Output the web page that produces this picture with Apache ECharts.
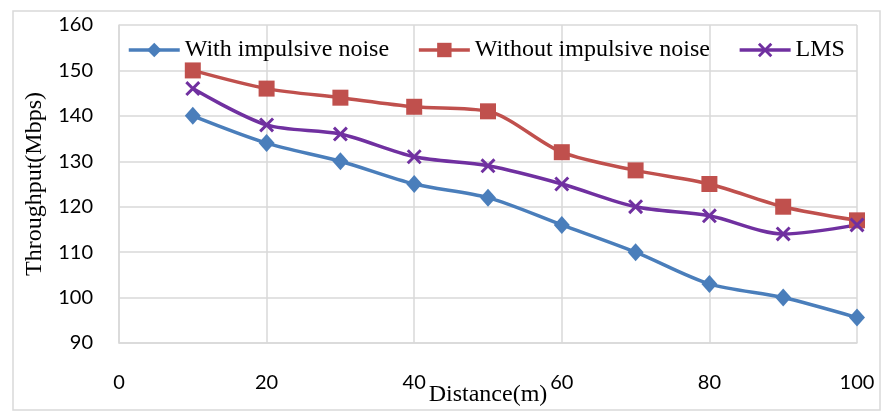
<!DOCTYPE html>
<html>
<head>
<meta charset="utf-8">
<script src="https://cdn.jsdelivr.net/npm/echarts@6/dist/echarts.min.js"></script>
<style>
  html, body { margin: 0; padding: 0; background: #fff; }
  #chart { width: 882px; height: 412px; }
</style>
</head>
<body>
<div id="chart"></div>
<script>
// distances (m)
var distances = [10, 20, 30, 40, 50, 60, 70, 80, 90, 100];
// throughput (Mbps)
var withNoise = [140, 134, 130, 125, 122, 116, 110, 103, 100, 95.6];
var withoutNoise = [150, 146, 144, 142, 141, 132, 128, 125, 120, 117];
var lms = [146, 138, 136, 131, 129, 125, 120, 118, 114, 116];
var seriesNames = ['With impulsive noise', 'Without impulsive noise', 'LMS'];

function pairs(xs, ys) {
    var out = [];
    for (var i = 0; i < xs.length; i++) {
        out.push([xs[i], ys[i]]);
    }
    return out;
}

var serif = '"Liberation Serif", "Times New Roman", serif';
var gridColor = '#d9d9d9';
// thin filled X shape for the LMS markers
var crossPath = 'path://M0,1.4L1.4,0L10,8.6L8.6,10Z M8.6,0L10,1.4L1.4,10L0,8.6Z';

var myChart = echarts.init(document.getElementById('chart'));

var option = {
    animation: false,
    graphic: [{
        type: 'rect',
        shape: { x: 13, y: 11, width: 867, height: 399 },
        style: { fill: 'none', stroke: gridColor, lineWidth: 1.5 },
        silent: true
    }],
    grid: { left: 119, right: 25, top: 25, bottom: 69, outerBoundsMode: 'none' },
    legend: {
        left: 122,
        top: 33,
        itemWidth: 51,
        itemHeight: 18,
        itemGap: 28,
        lineStyle: { width: 3.5 },
        textStyle: { fontFamily: serif, fontSize: 24, color: '#000' },
        data: seriesNames
    },
    xAxis: {
        type: 'value',
        min: 0,
        max: 100,
        interval: 20,
        name: 'Distance(m)',
        nameLocation: 'middle',
        nameGap: 40,
        nameMoveOverlap: false,
        nameTextStyle: { fontFamily: serif, fontSize: 24, color: '#000' },
        axisLine: { lineStyle: { color: gridColor, width: 1.5 } },
        axisTick: { show: false },
        axisLabel: { margin: 30, fontFamily: 'Lato', fontSize: 20, color: '#000' },
        splitLine: { show: true, lineStyle: { color: gridColor, width: 1.5 } }
    },
    yAxis: {
        type: 'value',
        min: 90,
        max: 160,
        interval: 10,
        name: 'Throughput(Mbps)',
        nameLocation: 'middle',
        nameGap: 72,
        nameMoveOverlap: false,
        nameTextStyle: { fontFamily: serif, fontSize: 24, color: '#000' },
        axisLine: { show: true, lineStyle: { color: gridColor, width: 1.5 } },
        axisTick: { show: false },
        axisLabel: { margin: 26, fontFamily: 'Lato', fontSize: 20, color: '#000' },
        splitLine: { show: true, lineStyle: { color: gridColor, width: 1.5 } }
    },
    series: [{
        name: seriesNames[0],
        type: 'line',
        smooth: 0.3,
        data: pairs(distances, withNoise),
        symbol: 'diamond',
        symbolSize: [16, 18],
        lineStyle: { color: '#4A7EBB', width: 3.5 },
        itemStyle: { color: '#4A7EBB' }
    }, {
        name: seriesNames[1],
        type: 'line',
        smooth: 0.3,
        data: pairs(distances, withoutNoise),
        symbol: 'rect',
        symbolSize: 16,
        lineStyle: { color: '#C0504D', width: 3.5 },
        itemStyle: { color: '#C0504D' }
    }, {
        name: seriesNames[2],
        type: 'line',
        smooth: 0.3,
        data: pairs(distances, lms),
        symbol: crossPath,
        symbolSize: 15,
        lineStyle: { color: '#7030A0', width: 3.5 },
        itemStyle: { color: '#7030A0' }
    }]
};

myChart.setOption(option);
</script>
</body>
</html>
